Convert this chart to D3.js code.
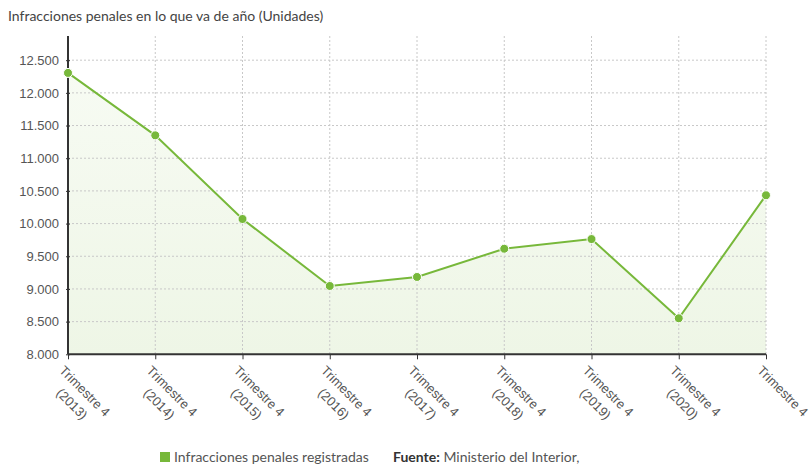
<!DOCTYPE html>
<html><head><meta charset="utf-8">
<script src="https://cdn.jsdelivr.net/npm/d3@7"></script>
<style>
html,body{margin:0;padding:0;background:#fff;}
svg{display:block;font-family:"Source Sans Pro","Lato","Open Sans",sans-serif;}
</style></head>
<body><svg id="c" width="811" height="466"></svg>
<script>
const title = "Infracciones penales en lo que va de año (Unidades)";
const labelLine1 = ["Trimestre 4","Trimestre 4","Trimestre 4","Trimestre 4","Trimestre 4","Trimestre 4","Trimestre 4","Trimestre 4","Trimestre 4"];
const labelLine2 = ["(2013)","(2014)","(2015)","(2016)","(2017)","(2018)","(2019)","(2020)",""];
const categories = ["2013","2014","2015","2016","2017","2018","2019","2020","2021"];
const values = [12305, 11350, 10070, 9045, 9183, 9615, 9763, 8551, 10433];
const yTicks = [8000, 8500, 9000, 9500, 10000, 10500, 11000, 11500, 12000, 12500];
const seriesName = "Infracciones penales registradas";
const sourceLabel = "Fuente:";
const sourceText = "Ministerio del Interior,";

(function(){
const green = "#77b83a";
const svg = d3.select("#c");
const pL = 68, pR = 766, pT = 36, pB = 354.3;

const x = d3.scalePoint().domain(categories).range([pL, pR]);
const y = d3.scaleLinear().domain([8000, 12870]).range([pB, pT]);
const fmt = v => d3.format(",")(v).replace(/,/g, ".");

svg.append("text").attr("x", 8).attr("y", 21).attr("font-size", 14).attr("fill", "#444").text(title);

const defs = svg.append("defs");
const grad = defs.append("linearGradient").attr("id","ag").attr("x1",0).attr("y1",0).attr("x2",0).attr("y2",1);
grad.append("stop").attr("offset","0%").attr("stop-color","#f7fbf3");
grad.append("stop").attr("offset","100%").attr("stop-color","#eef6e6");

const data = categories.map((c,i)=>({c, v: values[i]}));

svg.append("path").datum(data)
  .attr("d", d3.area().x(d=>x(d.c)).y0(y(8000)).y1(d=>y(d.v)))
  .attr("fill","url(#ag)");

const gridY = yTicks.filter(t=>t>8000);
svg.append("g").selectAll("line").data(gridY).join("line")
  .attr("x1", pL).attr("x2", pR).attr("y1", d=>y(d)).attr("y2", d=>y(d))
  .attr("stroke","#c8c8c8").attr("stroke-dasharray","2,2").attr("stroke-width",1);
svg.append("g").selectAll("line").data(categories.slice(1)).join("line")
  .attr("x1", d=>x(d)).attr("x2", d=>x(d)).attr("y1", pT).attr("y2", pB)
  .attr("stroke","#c8c8c8").attr("stroke-dasharray","2,2").attr("stroke-width",1);

const yAxis = d3.axisLeft(y).tickValues(yTicks).tickFormat(fmt).tickSize(4).tickPadding(5);
const gy = svg.append("g").attr("transform",`translate(${pL},0)`).call(yAxis);
gy.select(".domain").attr("d", `M0,${pT}V${pB}`).attr("stroke","#333").attr("stroke-width",2);
gy.selectAll(".tick line").attr("stroke","#333").attr("x1",-2).attr("x2",2);
gy.selectAll(".tick text").attr("font-size",13).attr("fill","#555").attr("font-family","inherit");

const xAxis = d3.axisBottom(x).tickSize(5).tickFormat("");
const gx = svg.append("g").attr("transform",`translate(0,${pB})`).call(xAxis);
gx.select(".domain").attr("d", `M${pL},0H${pR}`).attr("stroke","#333").attr("stroke-width",2);
gx.selectAll(".tick line").attr("stroke","#333");
gx.selectAll(".tick").each(function(d,i){
  const t = d3.select(this).append("text")
    .attr("transform","translate(-10,17) rotate(45)")
    .attr("text-anchor","middle").attr("font-size",13).attr("fill","#555")
    .attr("font-family","inherit");
  const s1 = t.append("tspan").attr("x",0).attr("y",0).text(labelLine1[i]);
  const L = s1.node().getComputedTextLength();
  s1.attr("x", L/2);
  if (labelLine2[i]) t.append("tspan").attr("x",L/2).attr("y",18).text(labelLine2[i]);
});

svg.append("path").datum(data)
  .attr("d", d3.line().x(d=>x(d.c)).y(d=>y(d.v)))
  .attr("fill","none").attr("stroke",green).attr("stroke-width",2);
svg.append("g").selectAll("circle").data(data).join("circle")
  .attr("cx", d=>x(d.c)).attr("cy", d=>y(d.v)).attr("r",4.5)
  .attr("fill",green).attr("stroke","#fff").attr("stroke-width",1);

svg.append("rect").attr("x",160).attr("y",452).attr("width",10).attr("height",10).attr("fill",green);
svg.append("text").attr("x",174).attr("y",462).attr("font-size",14).attr("fill","#555").text(seriesName);
const src = svg.append("text").attr("x",393).attr("y",462).attr("font-size",14).attr("fill","#555");
src.append("tspan").attr("font-weight","bold").attr("fill","#333").text(sourceLabel);
src.append("tspan").text(" " + sourceText);
})();
</script></body></html>
